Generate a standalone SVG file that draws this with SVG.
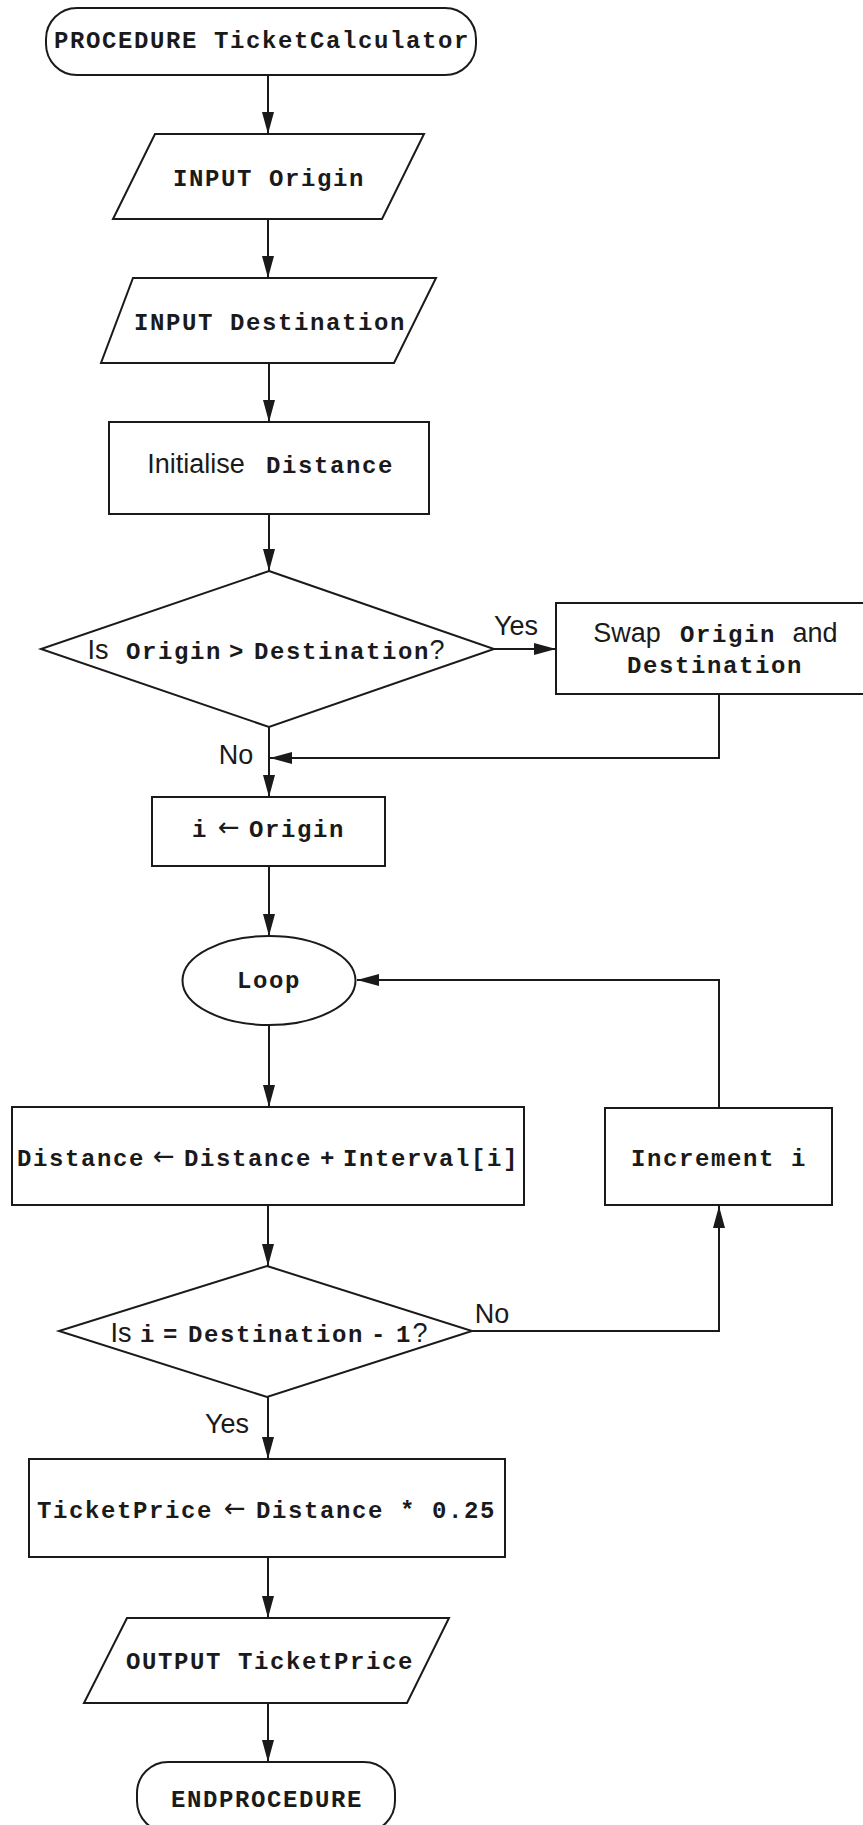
<svg xmlns="http://www.w3.org/2000/svg" width="863" height="1825" viewBox="0 0 863 1825">
<style>
.s{fill:#fff;stroke:#1a1a1a;stroke-width:2}
.c{fill:none;stroke:#1a1a1a;stroke-width:2}
.m{font-family:"Liberation Mono","Courier New",monospace;font-weight:bold;font-size:24px;letter-spacing:1.6px;fill:#1a1a1a;text-anchor:middle}
.n{font-family:"Liberation Sans",Arial,sans-serif;font-size:27px;fill:#1a1a1a;text-anchor:middle}
.a{font-family:"DejaVu Sans",sans-serif;font-size:26px;fill:#1a1a1a;text-anchor:middle}
</style>
<defs>
<marker id="ah" markerUnits="userSpaceOnUse" markerWidth="22" markerHeight="12" refX="22" refY="6" orient="auto">
<path d="M0,0 L22,6 L0,12 z" fill="#1a1a1a"/>
</marker>
</defs>
<rect width="863" height="1825" fill="#fff"/>
<g id="connectors">
<path class="c" d="M268,75 V134" marker-end="url(#ah)"/>
<path class="c" d="M268,219 V278" marker-end="url(#ah)"/>
<path class="c" d="M269,363 V422" marker-end="url(#ah)"/>
<path class="c" d="M269,514 V571" marker-end="url(#ah)"/>
<path class="c" d="M494,649 H556" marker-end="url(#ah)"/>
<path class="c" d="M719,694 V758 H270" marker-end="url(#ah)"/>
<path class="c" d="M269,727 V797" marker-end="url(#ah)"/>
<path class="c" d="M269,866 V936" marker-end="url(#ah)"/>
<path class="c" d="M269,1025 V1107" marker-end="url(#ah)"/>
<path class="c" d="M719,1108 V980 H357" marker-end="url(#ah)"/>
<path class="c" d="M268,1205 V1266" marker-end="url(#ah)"/>
<path class="c" d="M472,1331 H719 V1206" marker-end="url(#ah)"/>
<path class="c" d="M268,1397 V1459" marker-end="url(#ah)"/>
<path class="c" d="M268,1557 V1618" marker-end="url(#ah)"/>
<path class="c" d="M268,1703 V1762" marker-end="url(#ah)"/>
<text class="n" x="516" y="635">Yes</text>
<text class="n" x="236" y="764">No</text>
<text class="n" x="492" y="1323">No</text>
<text class="n" x="227" y="1433">Yes</text>
</g>
<g id="start">
<rect class="s" x="46" y="8" width="430" height="67" rx="31"/>
<text class="m" x="262" y="48">PROCEDURE TicketCalculator</text>
</g>
<g id="input-origin">
<polygon class="s" points="155,134 424,134 382,219 113,219"/>
<text class="m" x="269" y="186">INPUT Origin</text>
</g>
<g id="input-destination">
<polygon class="s" points="133,278 436,278 394,363 101,363"/>
<text class="m" x="270" y="330">INPUT Destination</text>
</g>
<g id="init-distance">
<rect class="s" x="109" y="422" width="320" height="92"/>
<text class="n" x="196" y="473">Initialise</text>
<text class="m" x="330" y="473">Distance</text>
</g>
<g id="decision-swap">
<polygon class="s" points="269,571 494,649 269,727 41,649"/>
<text class="n" x="98" y="659">Is</text>
<text class="m" x="174" y="659">Origin</text>
<text class="m" x="237" y="659">&gt;</text>
<text class="m" x="342" y="659">Destination</text>
<text class="n" x="437" y="659">?</text>
</g>
<g id="swap">
<rect class="s" x="556" y="603" width="320" height="91"/>
<text class="n" x="627" y="642">Swap</text>
<text class="m" x="728" y="642">Origin</text>
<text class="n" x="815" y="642">and</text>
<text class="m" x="715" y="673">Destination</text>
</g>
<g id="init-i">
<rect class="s" x="152" y="797" width="233" height="69"/>
<text class="m" x="200" y="837">i</text>
<text class="a" x="229" y="836">←</text>
<text class="m" x="297" y="837">Origin</text>
</g>
<g id="loop">
<ellipse class="s" cx="269" cy="980.5" rx="86.5" ry="44.5"/>
<text class="m" x="269" y="988">Loop</text>
</g>
<g id="add-interval">
<rect class="s" x="12" y="1107" width="512" height="98"/>
<text class="m" x="81" y="1166">Distance</text>
<text class="a" x="164" y="1165">←</text>
<text class="m" x="248" y="1166">Distance</text>
<text class="m" x="328" y="1166">+</text>
<text class="m" x="431" y="1166">Interval[i]</text>
</g>
<g id="increment">
<rect class="s" x="605" y="1108" width="227" height="97"/>
<text class="m" x="719" y="1166">Increment i</text>
</g>
<g id="decision-end">
<polygon class="s" points="267,1266 472,1331 267,1397 59,1331"/>
<text class="n" x="121" y="1342">Is</text>
<text class="m" x="148" y="1342">i</text>
<text class="m" x="171" y="1342">=</text>
<text class="m" x="276" y="1342">Destination</text>
<text class="m" x="379" y="1342">-</text>
<text class="m" x="404" y="1342">1</text>
<text class="n" x="420" y="1342">?</text>
</g>
<g id="ticket-price">
<rect class="s" x="29" y="1459" width="476" height="98"/>
<text class="m" x="125" y="1518">TicketPrice</text>
<text class="a" x="235" y="1517">←</text>
<text class="m" x="320" y="1518">Distance</text>
<text class="m" x="408" y="1518">*</text>
<text class="m" x="464" y="1518">0.25</text>
</g>
<g id="output">
<polygon class="s" points="127,1618 449,1618 407,1703 84,1703"/>
<text class="m" x="270" y="1669">OUTPUT TicketPrice</text>
</g>
<g id="end">
<rect class="s" x="137" y="1762" width="258" height="70" rx="31"/>
<text class="m" x="267" y="1807">ENDPROCEDURE</text>
</g>
</svg>
